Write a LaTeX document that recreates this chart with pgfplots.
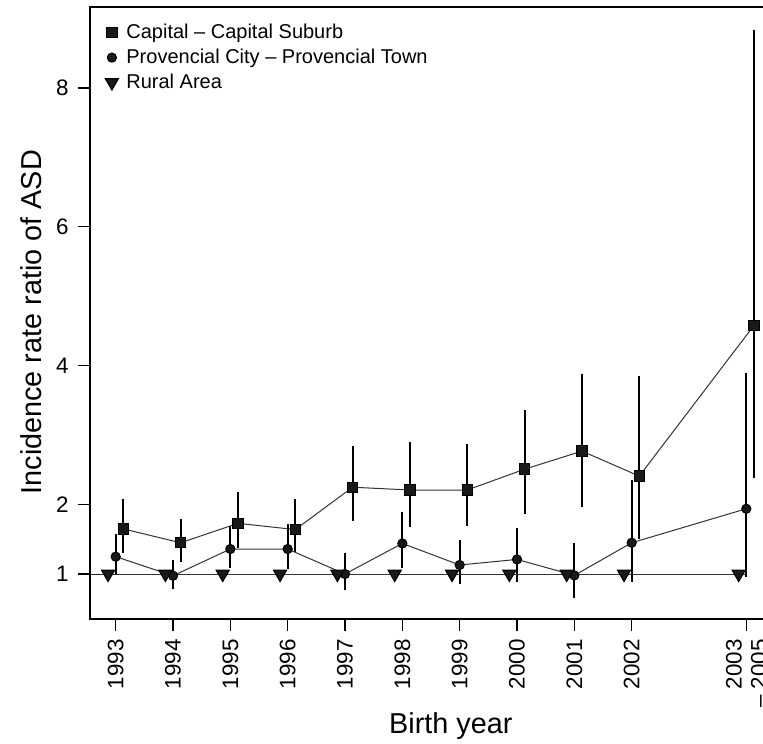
\documentclass[border=0pt]{standalone}
\usepackage{fontspec}
\setmainfont{Liberation Sans}
\usepackage{pgfplots}
\pgfplotsset{compat=1.18}
\usepackage{pgfplotstable}

\pgfplotstableread{
x y hi lo
0.133 1.65 2.08 1.30
1.133 1.45 1.79 1.17
2.133 1.73 2.18 1.38
3.133 1.64 2.08 1.32
4.133 2.25 2.84 1.77
5.133 2.21 2.90 1.68
6.133 2.21 2.87 1.69
7.133 2.51 3.36 1.86
8.133 2.77 3.88 1.96
9.133 2.41 3.85 1.50
11.133 4.58 8.83 2.38
}\capital

\pgfplotstableread{
x y hi lo
0 1.25 1.57 1.00
1 0.975 1.20 0.78
2 1.36 1.69 1.09
3 1.36 1.72 1.07
4 1.00 1.30 0.77
5 1.44 1.89 1.09
6 1.13 1.49 0.85
7 1.21 1.66 0.88
8 0.98 1.44 0.66
9 1.45 2.36 0.89
11 1.94 3.90 0.95
}\provincial

\pgfplotstableread{
x y
-0.133 1
0.867 1
1.867 1
2.867 1
3.867 1
4.867 1
5.867 1
6.867 1
7.867 1
8.867 1
10.867 1
}\rural

\begin{document}
\begin{tikzpicture}
\begin{axis}[
  name=ax,
  scale only axis,
  width=341pt, height=306pt,
  xmin=-0.448, xmax=11.448,
  ymin=0.352, ymax=9.167,
  axis line style={line width=0.8pt},
  xtick={0,1,2,3,4,5,6,7,8,9,11},
  xticklabels={1993,1994,1995,1996,1997,1998,1999,2000,2001,2002,{2003\\– 2005}},
  ytick={1,2,4,6,8},
  tick align=outside,
  major tick length=6pt,
  tick style={line width=0.6pt, black},
  xtick pos=bottom, ytick pos=left,
  /pgf/number format/assume math mode=true,
  tick label style={font=\fontsize{11.2}{12.5}\selectfont},
  xticklabel style={rotate=90, anchor=east, align=right, inner sep=4pt},
  yticklabel style={inner sep=4.5pt},
  xlabel={Birth year},
  ylabel={Incidence rate ratio of ASD},
  every axis x label/.style={at={(axis description cs:0.529,0)}, anchor=base, yshift=-57pt,
    font=\fontsize{14.4}{16}\selectfont},
  every axis y label/.style={at={(axis description cs:-0.0865,0.485)}, rotate=90, anchor=center,
    font=\fontsize{14.4}{16}\selectfont},
  legend style={draw=none, fill=none, at={(axis description cs:0.016,0.986)}, anchor=north west,
    font=\fontsize{10}{12}\selectfont, row sep=-0.3pt, inner sep=2pt},
  legend cell align=left,
  legend image code/.code={\draw[#1, only marks] plot coordinates {(0.15cm,0cm)};
    \path (0.15cm,0cm) ++(5pt,0pt);},
  error bars/error bar style={line width=1pt, black},
  error bars/error mark=none,
]
\draw[line width=0.5pt, black!85] (axis cs:-0.448,1) -- (axis cs:11,1);
\addplot[black!80, line width=0.5pt, mark=square*, mark options={black, fill=black!90, scale=1.3},
  error bars/.cd, y dir=both, y explicit]
  table[x=x, y=y, y error plus expr=\thisrow{hi}-\thisrow{y}, y error minus expr=\thisrow{y}-\thisrow{lo}] {\capital};
\addlegendentry{Capital – Capital Suburb}
\addplot[black!80, line width=0.5pt, mark=*, mark options={black, fill=black!90, scale=1.15},
  error bars/.cd, y dir=both, y explicit]
  table[x=x, y=y, y error plus expr=\thisrow{hi}-\thisrow{y}, y error minus expr=\thisrow{y}-\thisrow{lo}] {\provincial};
\addlegendentry{Provencial City – Provencial Town}
\addplot[black!80, line width=0.5pt, mark=triangle*, mark options={black, fill=black!90, rotate=180, scale=1.9}]
  table[x=x, y=y] {\rural};
\addlegendentry{Rural Area}
\end{axis}
\pgfresetboundingbox
\useasboundingbox ([xshift=-45pt, yshift=-62pt]ax.south west) rectangle ([xshift=336.5pt, yshift=3.5pt]ax.north west);
\end{tikzpicture}
\end{document}
